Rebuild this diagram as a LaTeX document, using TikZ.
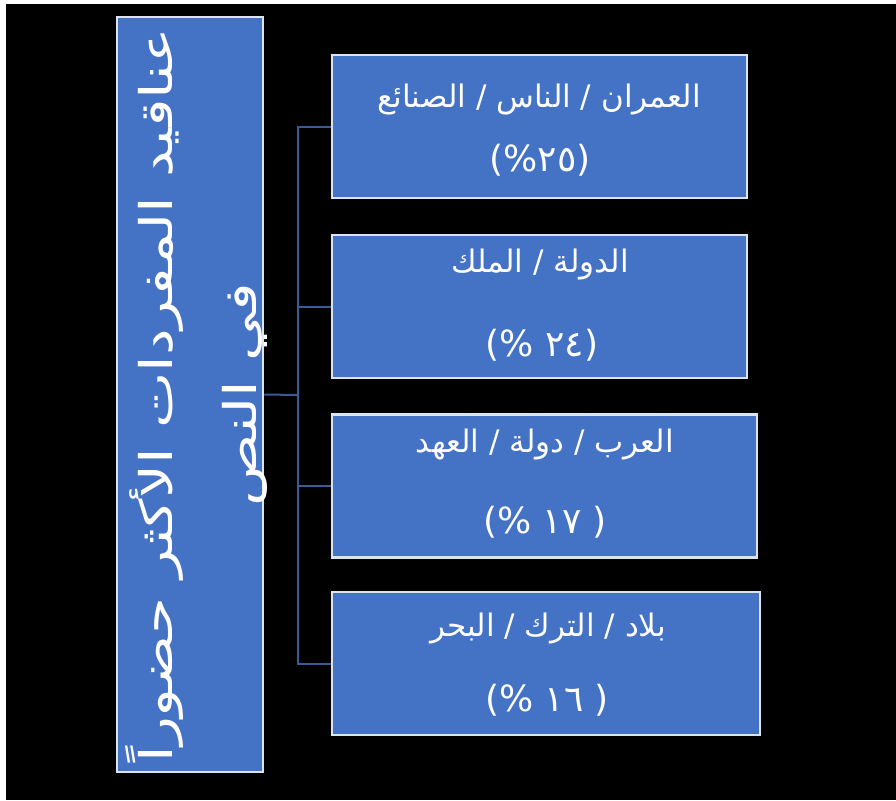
\documentclass[tikz,border=0pt]{standalone}
\usepackage{fontspec}
\usepackage{graphicx}
\setmainfont{Liberation Serif}
\newfontfamily\arabicfont[Script=Arabic]{DejaVu Sans}
\newfontfamily\arabicwide[Script=Arabic, FakeStretch=1.33]{DejaVu Sans}
\TeXXeTstate=1
\definecolor{boxblue}{HTML}{4472C4}
\definecolor{boxedge}{HTML}{DCE4F2}
\definecolor{linkblue}{HTML}{3A5C96}
\begin{document}
\begin{tikzpicture}[x=1pt,y=-1pt,
  card/.style={draw=boxedge, line width=2.5pt, fill=boxblue, inner sep=0pt},
  link/.style={draw=linkblue, line width=2pt},
  word/.style={text=white, inner sep=0pt, font=\arabicfont\fontsize{31}{38}\selectfont},
  pct/.style={text=white, inner sep=0pt, font=\arabicfont\fontsize{36}{40}\selectfont}]
\useasboundingbox (0,0) rectangle (896,800);
\fill[black] (0,0) rectangle (896,800);
\fill[white] (0,0) rectangle (6,800);
\fill[white] (0,0) rectangle (896,4);

\node[card, minimum width=146pt, minimum height=755pt] (L) at (190,394.5) {};
\node[card, minimum width=415pt, minimum height=143pt] (b1) at (539.5,126.5) {};
\node[card, minimum width=415pt, minimum height=143pt] (b2) at (539.5,306.5) {};
\node[card, minimum width=425pt, minimum height=143pt] (b3) at (544.5,486) {};
\node[card, minimum width=428pt, minimum height=143pt] (b4) at (546,663.5) {};

\coordinate (j) at (298,395);
\draw[link] (L.east) -- (j);
\draw[link] (j) |- (b1.west);
\draw[link] (j) |- (b2.west);
\draw[link] (j) |- (b3.west);
\draw[link] (j) |- (b4.west);

\node[word, rotate=90, align=center, font=\arabicwide\fontsize{45}{84}\selectfont] (lt) at (196,395)
  {\beginR عناقيد المفردات الأكثر حضوراً\endR\\\beginR في النص\endR};

\node[word] (t1) at (539,100) {\beginR العمران / الناس / الصنائع\endR};
\node[pct] (p1) at (540,160) {\beginR (٢٥\%)\endR};
\node[word] (t2) at (540,265) {\beginR الدولة / الملك\endR};
\node[pct] (p2) at (542,345) {\beginR (٢٤ \%)\endR};
\node[word] (t3) at (545,445) {\beginR العرب / دولة / العهد\endR};
\node[pct] (p3) at (545,522) {\beginR ( ١٧ \%)\endR};
\node[word] (t4) at (548,628) {\beginR بلاد / الترك / البحر\endR};
\node[pct] (p4) at (547,700) {\beginR ( ١٦ \%)\endR};
\end{tikzpicture}
\end{document}
